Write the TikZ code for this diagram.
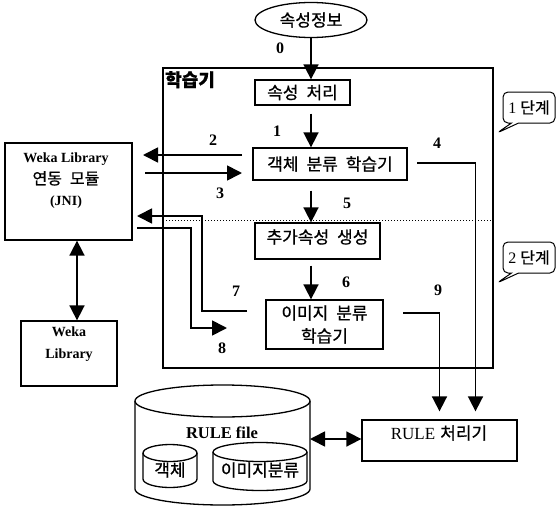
\documentclass[tikz,border=0pt]{standalone}
\usepackage{fontspec}
\setmainfont{Liberation Serif}
\newfontfamily\kr[FakeBold=0.8]{Noto Sans CJK KR}
\usetikzlibrary{arrows.meta,shapes.geometric,shapes.callouts,calc}
\newcommand\kgap{\hspace{8pt}}
\begin{document}
\begin{tikzpicture}[x=1pt,y=-1pt,
  box/.style={draw,line width=1.3pt,rectangle,inner sep=0pt},
  kt/.style={font=\kr\fontsize{17}{23}\selectfont},
  lt/.style={font=\bfseries\fontsize{14}{21.5}\selectfont},
  num/.style={font=\bfseries\fontsize{16}{16}\selectfont,inner sep=0pt},
  arr/.style={line width=1.7pt,-{Triangle[length=15pt,width=15pt]}},
  darr/.style={line width=1.7pt,{Triangle[length=15pt,width=15pt]}-{Triangle[length=15pt,width=15pt]}},
  cyl/.style={line width=1.3pt},
  stage/.style={draw,line width=1pt,rectangle callout,rounded corners=5pt,minimum width=52pt,minimum height=31pt,inner sep=1pt,font=\fontsize{16}{16}\selectfont},
]
\useasboundingbox (0,0) rectangle (557,506);

% frame of the learner
\node[box,line width=1.6pt,minimum width=330pt,minimum height=300pt] (frame) at (328,218) {};
\node[font=\kr\bfseries\fontsize{18}{18}\selectfont,anchor=north west,inner sep=1pt] (ftitle) at (164,70) {학습기};
\coordinate (sepL) at (163,220);
\coordinate (sepR) at (493,220);
\draw[dotted,line width=1pt] (sepL) -- (sepR);

% main nodes
\node[draw,ellipse,line width=1.3pt,minimum width=112pt,minimum height=35pt,kt,inner sep=0pt] (info) at (311,20) {속성정보};
\node[box,kt,minimum width=95pt,minimum height=25pt] (proc) at (302.5,92.5) {속성\kgap 처리};
\node[box,kt,minimum width=154pt,minimum height=32pt] (obj) at (330,164) {객체\kgap 분류\kgap 학습기};
\node[box,minimum width=125pt,minimum height=36pt] (add) at (317.5,241) {};
\node[kt] (addt) at (317.5,237) {추가속성\kgap 생성};
\node[box,kt,minimum width=117pt,minimum height=49pt,align=center] (img) at (324.5,324.5) {이미지\kgap 분류\\학습기};

\node[box,minimum width=127pt,minimum height=97pt] (jni) at (68.5,191.5) {};
\node[lt,align=center] (jnit) at (66,181) {Weka Library\\{\kr\mdseries\fontsize{16}{21.5}\selectfont 연동\kgap 모듈}\\(JNI)};
\node[box,minimum width=96pt,minimum height=65pt] (weka) at (69,353.5) {};
\node[lt,align=center] (wekat) at (69,344) {Weka\\Library};

\node[box,minimum width=155pt,minimum height=41pt] (rule) at (439.5,440.5) {};
\node[font=\fontsize{17}{17}\selectfont] (rulet) at (439,433) {RULE\hspace{5pt}{\kr 처리기}};

% RULE file cylinder
\draw[cyl] (135,401) -- (135,489) arc[start angle=180,end angle=0,x radius=87.5,y radius=16] -- (310,401);
\draw[cyl] (222.5,401) ellipse[x radius=87.5,y radius=16];
\node[font=\bfseries\fontsize{16.5}{16.5}\selectfont] (rft) at (222,433) {RULE file};
\draw[cyl] (143,453) -- (143,479) arc[start angle=180,end angle=0,x radius=27,y radius=8.5] -- (197,453);
\draw[cyl] (170,453) ellipse[x radius=27,y radius=8.5];
\node[font=\kr\fontsize{17}{17}\selectfont] (c1t) at (170,470) {객체};
\draw[cyl] (213,452) -- (213,481) arc[start angle=180,end angle=0,x radius=47,y radius=9.5] -- (307,452);
\draw[cyl] (260,452) ellipse[x radius=47,y radius=9.5];
\node[font=\kr\fontsize{17}{17}\selectfont] (c2t) at (260,470) {이미지분류};
\coordinate (cylR) at (310,439);

% connectors
\draw[arr] (info.south) -- (info.south |- proc.north);
\node[num] (n0) at (280,48) {0};
\draw[arr] ($(info.south|-proc.south)+(0,8)$) -- (info.south|-obj.north);
\node[num] (n1) at (277,131) {1};

\coordinate (a2s) at (242,155);
\coordinate (a2e) at (143,155);
\draw[arr] (a2s) -- (a2e);
\node[num] (n2) at (213,140) {2};
\coordinate (a3s) at (145,173);
\coordinate (a3e) at (242,173);
\draw[arr] (a3s) -- (a3e);
\node[num] (n3) at (220,193) {3};

\coordinate (a4s) at (417,163);
\draw[arr] (a4s) -| ($(rule.north)+(36,-8)$);
\node[num] (n4) at (437,143) {4};

\draw[arr] ($(info.south|-obj.south)+(0,10)$) -- (info.south|-add.north);
\node[num] (n5) at (347,203) {5};
\draw[arr] ($(info.south|-add.south)+(0,6)$) -- (info.south|-img.north);
\node[num] (n6) at (346,282) {6};

\coordinate (a7s) at (247,311);
\coordinate (a7e) at (137,216);
\draw[arr] (a7s) -- (202,311) -- (202,216) -- (a7e);
\node[num] (n7) at (236,291) {7};
\coordinate (a8s) at (137,228);
\coordinate (a8e) at (227,328);
\draw[arr] (a8s) -- (191,228) -- (191,328) -- (a8e);
\node[num] (n8) at (222,348) {8};

\coordinate (a9s) at (403,313);
\draw[arr] (a9s) -| ($(rule.north)+(0,-8)$);
\node[num] (n9) at (438,290) {9};

\draw[darr] ($(jni.south)+(8.5,0)$) -- ($(weka.north)+(8,0)$);
\draw[darr] (cylR) -- (cylR -| rule.west);

% stage callouts
\node[stage,callout absolute pointer={(497,133)}] (st1) at (529,107.5) {1 {\kr 단계}};
\node[stage,callout absolute pointer={(497,283)}] (st2) at (529,257.5) {2 {\kr 단계}};
\end{tikzpicture}
\end{document}
